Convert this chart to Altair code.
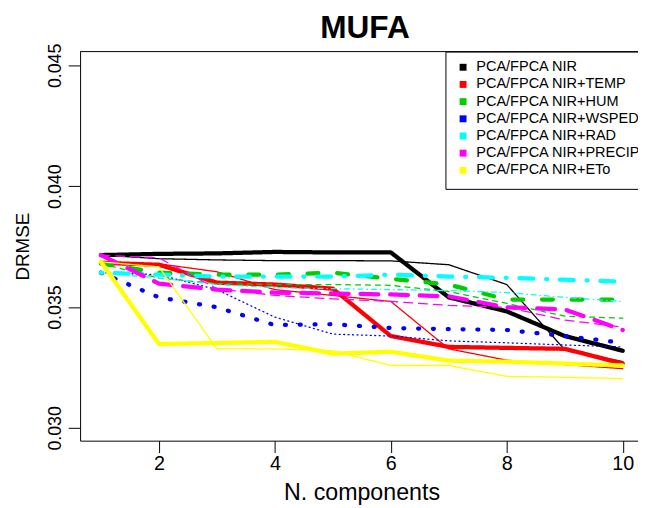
import altair as alt
import pandas as pd

# ---- data ----
components = [1, 2, 3, 4, 5, 6, 7, 8, 9, 10]

series_names = [
    "PCA/FPCA NIR",
    "PCA/FPCA NIR+TEMP",
    "PCA/FPCA NIR+HUM",
    "PCA/FPCA NIR+WSPED",
    "PCA/FPCA NIR+RAD",
    "PCA/FPCA NIR+PRECIP",
    "PCA/FPCA NIR+ETo",
]
series_colors = ["#000000", "#FF0000", "#00CD00", "#0000FF", "#00FFFF", "#FF00FF", "#FFFF00"]

nir_pca = [0.03715, 0.03720, 0.03722, 0.03728, 0.03726, 0.03726, 0.03540, 0.03482, 0.03380, 0.03319]
nir_fpca = [0.03715, 0.03700, 0.03695, 0.03692, 0.03692, 0.03691, 0.03675, 0.03593, 0.03323, 0.03274]
temp_pca = [0.03683, 0.03675, 0.03601, 0.03593, 0.03576, 0.03380, 0.03335, 0.03331, 0.03327, 0.03266]
temp_fpca = [0.03683, 0.03679, 0.03646, 0.03572, 0.03548, 0.03523, 0.03327, 0.03280, 0.03262, 0.03245]
hum_pca = [0.03680, 0.03642, 0.03634, 0.03634, 0.03642, 0.03617, 0.03593, 0.03531, 0.03531, 0.03531]
hum_fpca = [0.03680, 0.03620, 0.03597, 0.03593, 0.03593, 0.03590, 0.03564, 0.03515, 0.03462, 0.03454]
wsped_pca = [0.03642, 0.03540, 0.03499, 0.03425, 0.03429, 0.03413, 0.03409, 0.03405, 0.03380, 0.03352]
wsped_fpca = [0.03642, 0.03634, 0.03572, 0.03458, 0.03388, 0.03380, 0.03360, 0.03352, 0.03343, 0.03335]
rad_pca = [0.03642, 0.03634, 0.03626, 0.03626, 0.03626, 0.03634, 0.03626, 0.03621, 0.03613, 0.03605]
rad_fpca = [0.03642, 0.03620, 0.03593, 0.03580, 0.03576, 0.03572, 0.03568, 0.03560, 0.03540, 0.03523]
precip_pca = [0.03715, 0.03597, 0.03572, 0.03560, 0.03556, 0.03552, 0.03544, 0.03499, 0.03490, 0.03405]
precip_fpca = [0.03715, 0.03703, 0.03576, 0.03548, 0.03534, 0.03523, 0.03507, 0.03499, 0.03446, 0.03417]
eto_pca = [0.03687, 0.03347, 0.03351, 0.03356, 0.03307, 0.03315, 0.03278, 0.03274, 0.03266, 0.03258]
eto_fpca = [0.03687, 0.03666, 0.03327, 0.03327, 0.03319, 0.03258, 0.03258, 0.03213, 0.03209, 0.03204]

pca_values = [nir_pca, temp_pca, hum_pca, wsped_pca, rad_pca, precip_pca, eto_pca]
fpca_values = [nir_fpca, temp_fpca, hum_fpca, wsped_fpca, rad_fpca, precip_fpca, eto_fpca]

x_ticks = [2, 4, 6, 8, 10]
y_ticks = [0.030, 0.035, 0.040, 0.045]

# line styles (thick = PCA, thin = FPCA)
thick_dash = [[1, 0], [1, 0], [11, 19], [1, 14], [1, 13, 14, 13], [18, 12], [1, 0]]
thin_dash = [[1, 0], [1, 0], [5, 5], [1, 3.5], [0.5, 4, 5, 4], [9, 6], [1, 0]]

rows = []
keys = []
dashes = []
for i, name in enumerate(series_names):
    for method, vals, dash in (("PCA", pca_values[i], thick_dash[i]), ("FPCA", fpca_values[i], thin_dash[i])):
        key = name + " " + method
        keys.append(key)
        dashes.append(dash)
        for xv, yv in zip(components, vals):
            rows.append({"series": name, "method": method, "key": key, "n": xv, "drmse": yv})
df = pd.DataFrame(rows)

W, H = 565, 394
FONT = "Liberation Sans"

lines = alt.Chart(df).mark_line(strokeCap="round", strokeJoin="round").encode(
    x=alt.X(
        "n:Q",
        scale=alt.Scale(domain=[0.64, 10.263], nice=False, zero=False),
        axis=alt.Axis(
            values=x_ticks, title="N. components", grid=False, tickSize=12,
            tickColor="black", domainColor="black", labelColor="black", titleColor="black",
            labelFontSize=20, labelFont=FONT, labelPadding=1, labelFlush=False,
            titleFontSize=23.5, titleFont=FONT, titleFontWeight="normal",
            titleX=285, titleY=60, titleBaseline="alphabetic", titleAlign="center",
        ),
    ),
    y=alt.Y(
        "drmse:Q",
        scale=alt.Scale(domain=[0.02947, 0.04557], nice=False, zero=False),
        axis=alt.Axis(
            values=y_ticks, format=".3f", title="DRMSE", grid=False, tickSize=12,
            tickColor="black", domainColor="black", labelColor="black", titleColor="black",
            labelFontSize=18, labelFont=FONT, labelAngle=-90, labelAlign="center",
            labelBaseline="bottom", labelPadding=4, labelFlush=False,
            titleFontSize=19, titleFont=FONT, titleFontWeight="normal",
            titleAngle=-90, titleX=-58, titleY=H / 2, titleBaseline="middle", titleAlign="center",
        ),
    ),
    color=alt.Color(
        "series:N",
        scale=alt.Scale(domain=series_names, range=series_colors),
        legend=alt.Legend(
            title=None, orient="none", legendX=370, legendY=0, direction="vertical",
            symbolType="square", symbolSize=9, symbolStrokeWidth=4,
            labelFontSize=14.7, labelFont=FONT, labelColor="black", labelLimit=400,
            padding=8.5, rowPadding=-2.6, strokeColor="black", fillColor="white",
            symbolOffset=2, labelOffset=6,
        ),
    ),
    strokeDash=alt.StrokeDash("key:N", scale=alt.Scale(domain=keys, range=dashes), legend=None),
    strokeWidth=alt.StrokeWidth("method:N", scale=alt.Scale(domain=["PCA", "FPCA"], range=[4.3, 1.3]), legend=None),
    detail="key:N",
)

frame = pd.DataFrame({"side": ["top"]})
top_border = alt.Chart(frame).mark_rule(color="black", strokeWidth=1).encode(
    x=alt.value(0), x2=alt.value(W), y=alt.value(0)
)

chart = alt.layer(lines, top_border).properties(
    width=W,
    height=H,
    title=alt.TitleParams(
        "MUFA", fontSize=32, font=FONT, fontWeight="bold", anchor="middle",
        dx=6, dy=5, offset=3, color="black",
    ),
    autosize=alt.AutoSizeParams(type="none"),
    padding={"left": 73, "top": 41, "right": 0, "bottom": 63},
).configure_view(stroke=None)

chart.save("out.html", embed_options={"renderer": "svg", "actions": False})
